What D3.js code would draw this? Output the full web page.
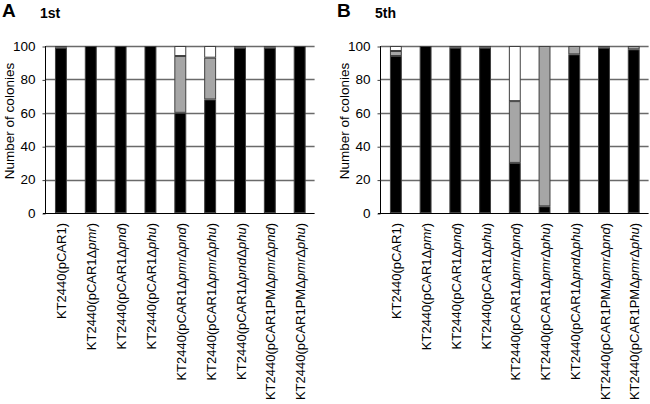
<!DOCTYPE html>
<html><head><meta charset="utf-8">
<script src="https://cdn.jsdelivr.net/npm/d3@7"></script>
<style>
body{margin:0;background:#fff;}
svg text{font-family:"Liberation Sans",Arial,sans-serif;}
</style></head>
<body><svg id="c" width="650" height="404"></svg>
<script>
const categories = [
  "KT2440(pCAR1)",
  "KT2440(pCAR1\u0394pmr)",
  "KT2440(pCAR1\u0394pnd)",
  "KT2440(pCAR1\u0394phu)",
  "KT2440(pCAR1\u0394pmr\u0394pnd)",
  "KT2440(pCAR1\u0394pmr\u0394phu)",
  "KT2440(pCAR1\u0394pnd\u0394phu)",
  "KT2440(pCAR1PM\u0394pmr\u0394pnd)",
  "KT2440(pCAR1PM\u0394pmr\u0394phu)"
];
// panel A (1st)
const blackA = [99, 100, 100, 100, 60, 68, 99, 99, 100];
const grayA  = [1,   0,   0,   0,  34, 25,  1,  1,   0];
const whiteA = [0,   0,   0,   0,   6,  7,  0,  0,   0];
// panel B (5th)
const blackB = [94, 100, 99, 99, 30,  4, 95, 99, 98];
const grayB  = [3,   0,  1,  1, 37, 96,  5,  1,  2];
const whiteB = [3,   0,  0,  0, 33,  0,  0,  0,  0];
const yTicks = [0, 20, 40, 60, 80, 100];
const panels = [
  {letter: "A", title: "1st", black: blackA, gray: grayA, white: whiteA},
  {letter: "B", title: "5th", black: blackB, gray: grayB, white: whiteB}
];
const yLabel = "Number of colonies";

const svg = d3.select("#c");
const layout = [{x0: 46, x1: 314.6}, {x0: 381, x1: 648.6}];
const yTop = 46, yBot = 213;

panels.forEach((p, pi) => {
  const L = layout[pi];
  const x = d3.scaleBand().domain(categories).range([L.x0, L.x1]).paddingInner(0.6).paddingOuter(0.3);
  const y = d3.scaleLinear().domain([0, 100]).range([yBot, yTop]);
  const g = svg.append("g");

  // gridlines
  const gridG = g.append("g");
  yTicks.filter(t => t > 0).forEach(t => {
    gridG.append("path")
      .attr("d", `M${L.x0},${Math.round(y(t)) + 0.5}H${L.x1}`)
      .attr("fill", "none").attr("stroke", "#6a6a6a").attr("stroke-width", 1.6);
  });

  // stacked bars
  const stackData = categories.map((c, i) => ({cat: c, black: p.black[i], gray: p.gray[i], white: p.white[i]}));
  const stack = d3.stack().keys(["black", "gray", "white"])(stackData);
  const fills = {black: "#000000", gray: "#a6a6a6", white: "#ffffff"};
  stack.forEach(layer => {
    g.append("g").selectAll("rect").data(layer.filter(d => d[1] - d[0] > 0)).join("rect")
      .attr("x", d => x(d.data.cat) + 0.5)
      .attr("width", x.bandwidth() - 1)
      .attr("y", d => y(d[1]) + 0.5)
      .attr("height", d => Math.max(0, y(d[0]) - y(d[1]) - 1))
      .attr("fill", fills[layer.key])
      .attr("stroke", "#404040").attr("stroke-width", 1);
  });

  // y axis
  const ya = g.append("g").attr("transform", `translate(${L.x0 - 0.5},0)`)
    .call(d3.axisLeft(y).tickValues(yTicks).tickSize(3).tickPadding(7));
  ya.select(".domain").attr("stroke", "#000").attr("d", `M0,${yTop}V${yBot + 0.5}`);
  ya.selectAll(".tick line").attr("stroke", "#404040").attr("transform", "translate(0,0.5)");
  ya.selectAll(".tick text").attr("font-size", 13.5).attr("fill", "#000")
    .attr("font-family", "Liberation Sans, Arial, sans-serif");

  // x axis
  const xa = g.append("g").attr("transform", `translate(0,${yBot + 0.5})`)
    .call(d3.axisBottom(x).tickSize(0).tickFormat(""));
  xa.select(".domain").attr("stroke", "#000").attr("d", `M${L.x0 - 3},0H${L.x1}`);
  xa.selectAll(".tick").each(function(d) {
    const t = d3.select(this).append("text")
      .attr("transform", "translate(1,9.5) rotate(-90)")
      .attr("text-anchor", "end").attr("dy", "0.35em")
      .attr("font-size", 13).attr("fill", "#000")
      .attr("font-family", "Liberation Sans, Arial, sans-serif");
    const parts = d.split("\u0394");
    parts.forEach((part, k) => {
      if (k === 0) { t.append("tspan").text(part); return; }
      const m = part.match(/^([a-z]+)(.*)$/);
      t.append("tspan").text("\u0394");
      t.append("tspan").attr("font-style", "italic").text(m[1]);
      if (m[2]) t.append("tspan").text(m[2]);
    });
  });

  // y label
  g.append("text")
    .attr("transform", `translate(${L.x0 - 32},${121}) rotate(-90)`)
    .attr("text-anchor", "middle").attr("font-size", 13.5).attr("fill", "#000")
    .text(yLabel);

  // titles
  g.append("text").attr("x", L.x0 - 44).attr("y", 17)
    .attr("font-size", 19).attr("font-weight", "bold").text(p.letter);
  g.append("text").attr("x", L.x0 - 6).attr("y", 18)
    .attr("font-size", 14).attr("font-weight", "bold").text(p.title);
});
</script></body></html>
